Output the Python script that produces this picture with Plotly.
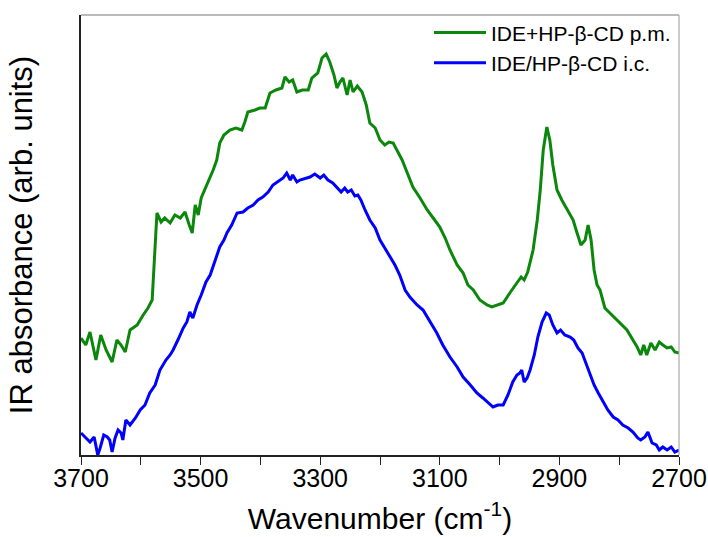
import plotly.graph_objects as go

# Wavenumber (cm^-1) and absorbance (arb. units)
pm_wn = [3700, 3692, 3685, 3675, 3667, 3658, 3648, 3640, 3633, 3626, 3618, 3606, 3596, 3588, 3581,
         3576, 3573, 3566, 3560, 3551, 3543, 3534, 3526, 3519, 3514, 3509, 3504, 3499, 3493, 3486,
         3479, 3473, 3468, 3461, 3451, 3441, 3431, 3426, 3421, 3409, 3401, 3392, 3384, 3374, 3364,
         3359, 3352, 3346, 3339, 3330, 3320, 3314, 3304, 3297, 3290, 3284, 3277, 3272, 3267, 3262,
         3255, 3250, 3245, 3238, 3230, 3223, 3217, 3208, 3200, 3192, 3185, 3178, 3172, 3163, 3153,
         3145, 3133, 3121, 3111, 3100, 3091, 3083, 3071, 3061, 3053, 3044, 3033, 3021, 3013, 3004,
         2994, 2983, 2971, 2964, 2959, 2953, 2944, 2937, 2932, 2927, 2921, 2916, 2911, 2904, 2896,
         2887, 2877, 2871, 2864, 2857, 2852, 2847, 2842, 2837, 2832, 2824, 2812, 2799, 2787, 2777,
         2770, 2764, 2759, 2754, 2747, 2740, 2733, 2727, 2720, 2713, 2707, 2700]
pm_abs = [1.17, 1.10, 1.23, 0.95, 1.20, 1.05, 0.93, 1.15, 1.10, 1.03, 1.25, 1.30, 1.40, 1.47, 1.55,
          2.15, 2.42, 2.33, 2.37, 2.32, 2.40, 2.37, 2.43, 2.30, 2.22, 2.50, 2.40, 2.57, 2.65, 2.75,
          2.85, 2.95, 3.12, 3.20, 3.25, 3.27, 3.25, 3.33, 3.43, 3.45, 3.47, 3.47, 3.62, 3.65, 3.67,
          3.78, 3.73, 3.75, 3.63, 3.65, 3.65, 3.77, 3.82, 3.97, 4.01, 3.93, 3.80, 3.67, 3.73, 3.77,
          3.60, 3.75, 3.63, 3.69, 3.63, 3.50, 3.32, 3.27, 3.15, 3.10, 3.13, 3.12, 3.05, 2.95, 2.80,
          2.68, 2.57, 2.45, 2.37, 2.28, 2.17, 2.05, 1.90, 1.82, 1.70, 1.65, 1.55, 1.50, 1.48, 1.50,
          1.52, 1.62, 1.72, 1.78, 1.75, 1.83, 2.05, 2.35, 2.65, 3.05, 3.28, 3.15, 2.90, 2.65, 2.55,
          2.45, 2.35, 2.23, 2.10, 2.15, 2.30, 2.15, 1.85, 1.70, 1.65, 1.47, 1.40, 1.33, 1.25, 1.15,
          1.08, 1.00, 1.10, 1.00, 1.12, 1.05, 1.13, 1.10, 1.07, 1.08, 1.03, 1.02]

ic_wn = [3700, 3692, 3685, 3678, 3672, 3668, 3662, 3656, 3652, 3648, 3643, 3638, 3633, 3630, 3625,
         3618, 3609, 3601, 3593, 3585, 3576, 3568, 3558, 3551, 3546, 3538, 3529, 3523, 3518, 3513,
         3506, 3499, 3491, 3484, 3478, 3473, 3468, 3461, 3456, 3448, 3439, 3429, 3421, 3412, 3404,
         3396, 3387, 3379, 3371, 3362, 3356, 3350, 3346, 3339, 3334, 3325, 3317, 3309, 3300, 3294,
         3287, 3279, 3272, 3265, 3259, 3254, 3248, 3242, 3237, 3232, 3225, 3217, 3208, 3200, 3192,
         3183, 3175, 3167, 3158, 3150, 3138, 3128, 3116, 3105, 3095, 3083, 3071, 3061, 3049, 3038,
         3028, 3019, 3011, 3003, 2994, 2986, 2978, 2971, 2966, 2963, 2959, 2954, 2949, 2942, 2936,
         2929, 2922, 2917, 2911, 2904, 2898, 2891, 2882, 2876, 2869, 2862, 2856, 2849, 2842, 2835,
         2827, 2819, 2810, 2802, 2794, 2785, 2777, 2769, 2764, 2757, 2752, 2745, 2738, 2733, 2727,
         2720, 2713, 2707, 2700]
ic_abs = [0.22, 0.17, 0.13, 0.18, 0.00, 0.07, 0.20, 0.18, 0.15, 0.03, 0.17, 0.25, 0.22, 0.15, 0.35,
          0.30, 0.37, 0.45, 0.50, 0.62, 0.70, 0.85, 0.95, 1.00, 1.05, 1.15, 1.27, 1.33, 1.43, 1.37,
          1.50, 1.60, 1.73, 1.80, 1.90, 1.98, 2.08, 2.15, 2.22, 2.30, 2.42, 2.43, 2.47, 2.50, 2.55,
          2.58, 2.63, 2.70, 2.73, 2.77, 2.82, 2.75, 2.80, 2.73, 2.75, 2.77, 2.78, 2.81, 2.77, 2.80,
          2.75, 2.72, 2.67, 2.63, 2.67, 2.63, 2.65, 2.59, 2.60, 2.55, 2.45, 2.35, 2.27, 2.15, 2.07,
          1.98, 1.90, 1.80, 1.65, 1.58, 1.50, 1.45, 1.33, 1.22, 1.10, 0.98, 0.88, 0.78, 0.70, 0.62,
          0.57, 0.52, 0.48, 0.50, 0.50, 0.60, 0.73, 0.80, 0.82, 0.85, 0.73, 0.77, 0.85, 1.00, 1.18,
          1.33, 1.42, 1.40, 1.30, 1.22, 1.25, 1.20, 1.18, 1.15, 1.07, 1.02, 0.92, 0.82, 0.70, 0.62,
          0.53, 0.45, 0.38, 0.35, 0.30, 0.27, 0.23, 0.17, 0.15, 0.18, 0.23, 0.12, 0.10, 0.05, 0.08,
          0.05, 0.08, 0.03, 0.05]

major_ticks = [3700, 3500, 3300, 3100, 2900, 2700]
minor_ticks = [3600, 3400, 3200, 3000, 2800]

series_names = ["IDE+HP-β-CD p.m.", "IDE/HP-β-CD i.c."]

FONT = "Arial, Liberation Sans, sans-serif"

fig = go.Figure()
fig.add_trace(go.Scatter(x=pm_wn, y=pm_abs, mode="lines", name=series_names[0],
                         line=dict(color="#0b870b", width=3), legendgroup="a"))
fig.add_trace(go.Scatter(x=ic_wn, y=ic_abs, mode="lines", name=series_names[1],
                         line=dict(color="#0000ff", width=3), legendgroup="b"))

fig.update_layout(
    width=708, height=537,
    margin=dict(l=81, r=29, t=15, b=82, autoexpand=False),
    paper_bgcolor="white", plot_bgcolor="white",
    font=dict(family=FONT, color="black"),
    showlegend=True,
    legend=dict(x=0.995, y=1.006, xanchor="right", yanchor="top",
                bgcolor="rgba(0,0,0,0)", font=dict(size=21, family=FONT),
                tracegroupgap=0, traceorder="grouped", itemwidth=52),
    xaxis=dict(range=[3700, 2700], tickvals=major_ticks, ticktext=[str(v) for v in major_ticks],
               ticks="outside", ticklen=8, tickwidth=1.2, tickcolor="#222",
               minor=dict(tickvals=minor_ticks, ticks="outside", ticklen=8, tickwidth=1.2,
                          tickcolor="#222", showgrid=False),
               showline=True, linecolor="#222", linewidth=1.5,
               showgrid=False, zeroline=False, automargin=False,
               tickfont=dict(size=25, family=FONT), ticklabelstandoff=-8,
               title=dict(text="Wavenumber (cm<sup>-1</sup>)", font=dict(size=30, family=FONT),
                          standoff=17)),
    yaxis=dict(range=[0, 4.4], showticklabels=False, ticks="",
               showline=True, linecolor="#222", linewidth=1.5,
               showgrid=False, zeroline=False, automargin=False,
               title=dict(text="IR absorbance (arb. units)", font=dict(size=31, family=FONT),
                          standoff=37)),
)

# lighter top and right frame lines
fig.add_shape(type="line", xref="paper", yref="paper", x0=0, x1=1, y0=1, y1=1,
              line=dict(color="#777777", width=1.2))
fig.add_shape(type="line", xref="paper", yref="paper", x0=1, x1=1, y0=0, y1=1,
              line=dict(color="#aaaaaa", width=1.2))

fig.write_html("out.html")
